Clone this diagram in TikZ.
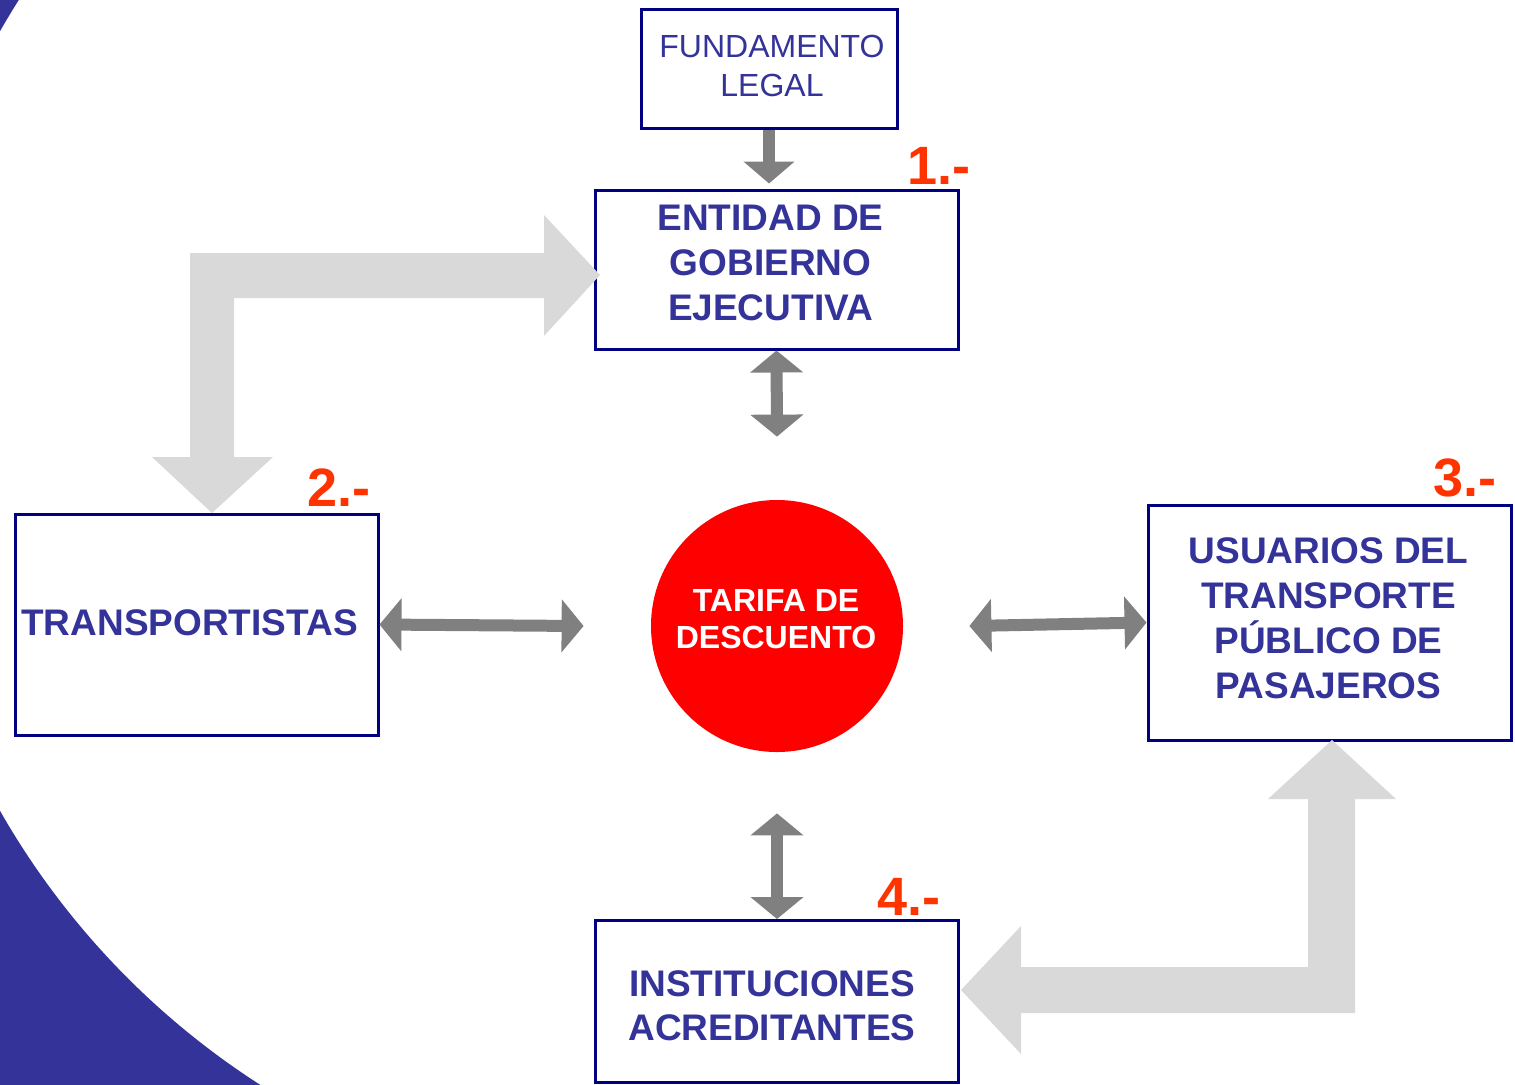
\documentclass[tikz,border=0pt]{standalone}
\usepackage{fontspec}
\setmainfont{Liberation Sans}
\usetikzlibrary{arrows.meta, positioning}

\definecolor{fondoazul}{RGB}{51,51,153}
\definecolor{marino}{RGB}{0,0,128}
\definecolor{textoazul}{RGB}{51,51,153}
\definecolor{rojonum}{RGB}{255,51,0}
\definecolor{grisflecha}{RGB}{128,128,128}
\definecolor{grisclaro}{RGB}{217,217,217}

\tikzset{
  caja/.style={draw=marino, line width=1.5pt, fill=white, inner sep=0pt, minimum width=181.5pt},
  texto/.style={text=textoazul, align=center, inner sep=0pt},
  negrita/.style={font=\fontsize{18.5}{22.5}\selectfont\bfseries},
  numero/.style={text=rojonum, font=\fontsize{27}{27}\selectfont\bfseries, inner sep=0pt},
  flecha/.style={draw=grisflecha, line width=6pt, {Triangle[width=26pt,length=11pt]}-{Triangle[width=26pt,length=11pt]}},
  flechauna/.style={draw=grisflecha, line width=6pt, -{Triangle[width=25pt,length=11pt]}},
  grande/.style={fill=grisclaro}
}

\begin{document}
\begin{tikzpicture}[x=0.5pt, y=-0.5pt]
\useasboundingbox (0,0) rectangle (1515,1084);

% fondo azul a la izquierda
\begin{scope}
  \clip (0,0) rectangle (700,1084);
  \fill[fondoazul, even odd rule] (-20,-20) rectangle (1535,1104) (685,421) circle [radius=394pt];
\end{scope}

% cajas
\node[caja, minimum width=128pt, minimum height=59.5pt] (fund) at (769,68.5) {};
\node[caja, minimum height=79.5pt] (ent) at (776.5,269.5) {};
\node[caja, minimum height=110.5pt] (trans) at (196.5,624.5) {};
\node[caja, minimum height=117.5pt] (usu) at (1329.5,622.5) {};
\node[caja, minimum height=81pt] (inst) at (777,1001.5) {};
\node[circle, fill=red, minimum size=126pt, inner sep=0pt] (circ) at (777,626) {};

% textos
\node[texto, font=\fontsize{16}{19.5}\selectfont] (fundT) at ([shift={(3,-3)}]fund.center) {FUNDAMENTO\\LEGAL};
\node[texto, negrita] (entT) at ([shift={(-6,-7)}]ent.center) {ENTIDAD DE\\GOBIERNO\\EJECUTIVA};
\node[texto, negrita] (transT) at ([shift={(-7,-2)}]trans.center) {TRANSPORTISTAS};
\node[texto, negrita] (usuT) at ([shift={(-1,-4)}]usu.center) {USUARIOS DEL\\TRANSPORTE\\PÚBLICO DE\\PASAJEROS};
\node[texto, font=\fontsize{18.5}{22}\selectfont\bfseries] (instT) at ([shift={(-5,4)}]inst.center) {INSTITUCIONES\\ACREDITANTES};
\node[texto, text=white, font=\fontsize{16}{18.5}\selectfont\bfseries] (circT) at ([shift={(-1,-7)}]circ.center) {TARIFA DE\\DESCUENTO};

% numeros
\node[numero] (n1) at (939,166) {1.-};
\node[numero] (n2) at (339,488) {2.-};
\node[numero] (n3) at (1465,478) {3.-};
\node[numero] (n4) at (909,897) {4.-};

% flechas grises
\draw[flechauna] (fund.south) -- ([yshift=2.5pt]fund.south |- ent.north);
\draw[flecha] (ent.south) -- ([yshift=31.5pt]circ.north);
\draw[flecha] ([yshift=-30.5pt]circ.south) -- (inst.north);
\draw[flecha] (trans.east) -- ([xshift=-33.5pt]circ.west);
\draw[flecha] ([xshift=33pt]circ.east) -- (usu.west);

% flechas grandes en L
\fill[grande] (600,275) -- (544,215) -- (544,253) -- (190,253) -- (190,457) -- (152,457)
  -- (212,513) -- (273,457) -- (234,457) -- (234,298) -- (544,298) -- (544,336) -- cycle;
\fill[grande] (1332,740) -- (1396,799) -- (1355,799) -- (1355,1013) -- (1021,1013)
  -- (1021,1054) -- (961,990) -- (1021,926) -- (1021,967) -- (1308,967) -- (1308,799)
  -- (1268,799) -- cycle;

\end{tikzpicture}
\end{document}
